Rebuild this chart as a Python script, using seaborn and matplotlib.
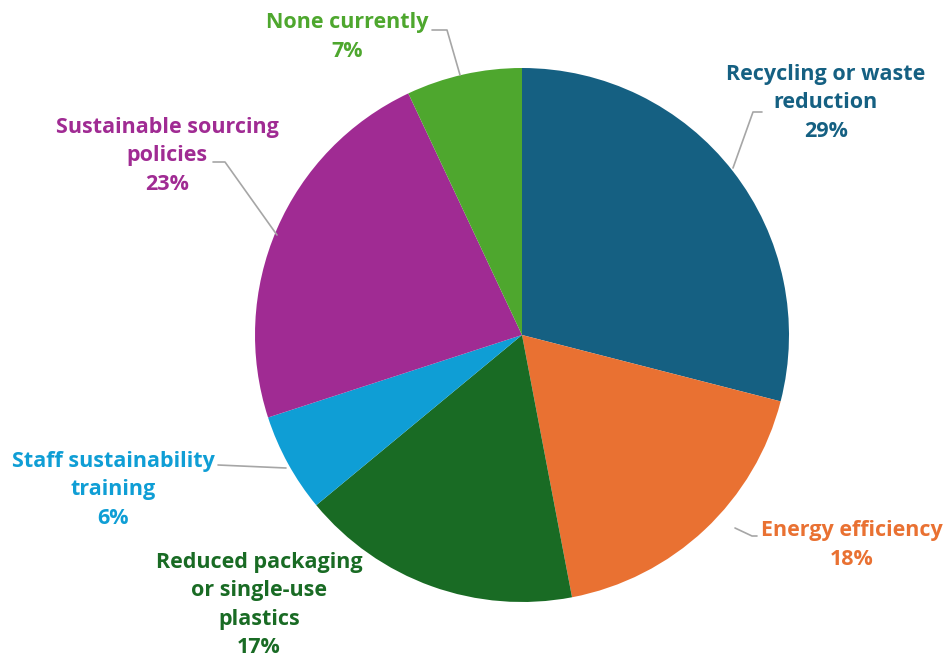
import matplotlib
matplotlib.use("Agg")
import matplotlib.pyplot as plt
import seaborn as sns

# data
categories = [
    "Recycling or waste\nreduction",
    "Energy efficiency",
    "Reduced packaging\nor single-use\nplastics",
    "Staff sustainability\ntraining",
    "Sustainable sourcing\npolicies",
    "None currently",
]
shares = [29, 18, 17, 6, 23, 7]
colors = ["#156082", "#E97132", "#196B24", "#0F9ED5", "#A02B93", "#4EA72E"]

# layout (pixel positions on a 948x659 canvas)
W, H = 948, 659
CX, CY, R = 522, 335, 267
label_pos = [(826, 103), (852, 545), (259, 605), (113, 490), (167, 156), (347, 37)]
leaders = [
    [(733, 168), (753, 112), (762, 112)],
    [(735, 528), (752, 536), (757, 536)],
    None,
    [(218, 465), (286, 468)],
    [(213, 162), (225, 162), (277, 235)],
    [(432, 30), (447, 30), (460, 75)],
]


def to_data(px, py):
    return (px - CX) / R, (CY - py) / R


sns.set_theme(style="white")
plt.rcParams["font.family"] = ["Open Sans", "DejaVu Sans"]

fig = plt.figure(figsize=(W / 100, H / 100), dpi=100)
ax = fig.add_axes([0, 0, 1, 1])

wedges, _ = ax.pie(shares, colors=colors, startangle=90, counterclock=False,
                   radius=1, center=(0, 0), frame=True,
                   wedgeprops=dict(linewidth=0, zorder=2))
ax.set_xlim(-CX / R, (W - CX) / R)
ax.set_ylim(-(H - CY) / R, CY / R)
ax.set_aspect("auto")
ax.axis("off")

for cat, val, col, (px, py), lead in zip(categories, shares, colors, label_pos, leaders):
    x, y = to_data(px, py)
    ax.text(x, y, f"{cat}\n{val}%", color=col, fontsize=15.5, fontweight="bold",
            ha="center", va="center", linespacing=1.45, zorder=1)
    if lead:
        xs, ys = zip(*[to_data(a, b) for a, b in lead])
        ax.plot(xs, ys, color="#a6a6a6", lw=1.2, zorder=3)

fig.savefig("out.png", dpi=100, facecolor="white")
